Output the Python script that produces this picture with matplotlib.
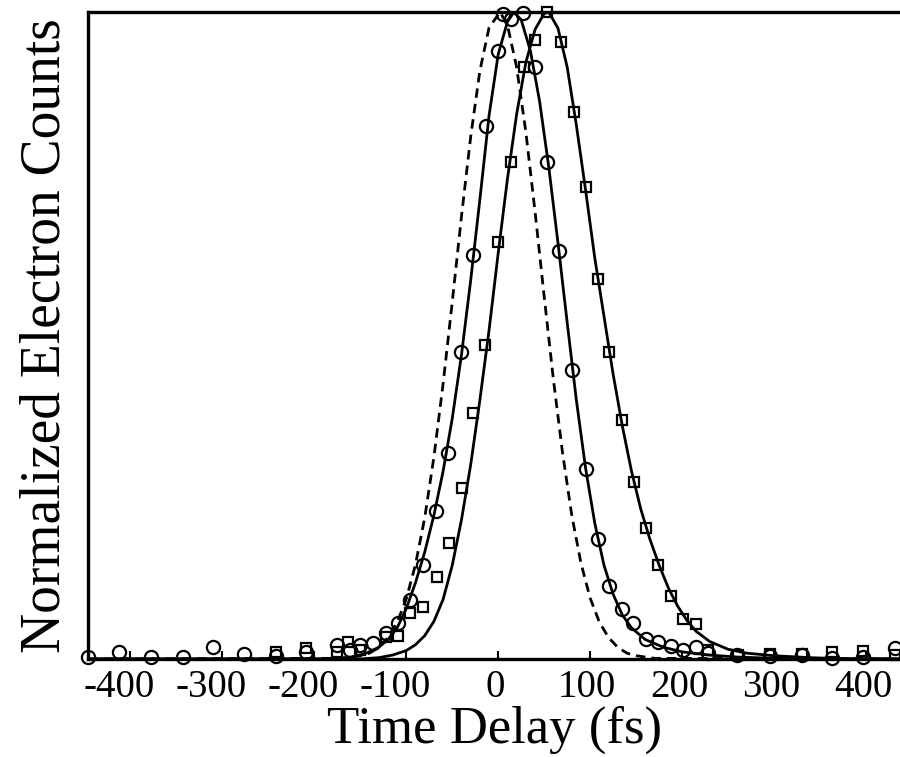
import matplotlib.pyplot as plt
from matplotlib.transforms import ScaledTranslation

plt.rcParams['font.family'] = ['Liberation Serif', 'DejaVu Serif']

# measured points (time delay in fs, normalized counts)
circ_t = [-446, -413, -378, -343, -310, -277, -242, -209, -175, -161, -150, -136,
          -122, -109, -96, -82, -68, -55, -40, -27, -13, 0, 5, 14, 27, 40, 53, 66,
          80, 95, 108, 120, 135, 147, 161, 174, 188, 201, 215, 228, 260, 296, 330,
          363, 397, 432]
circ_y = [0.003, 0.011, 0.003, 0.003, 0.019, 0.008, 0.005, 0.011, 0.022, 0.014,
          0.022, 0.025, 0.040, 0.056, 0.091, 0.146, 0.228, 0.319, 0.475, 0.624,
          0.824, 0.940, 0.997, 0.989, 0.998, 0.915, 0.768, 0.630, 0.447, 0.293,
          0.186, 0.113, 0.077, 0.056, 0.031, 0.026, 0.020, 0.014, 0.019, 0.009,
          0.006, 0.005, 0.006, 0.002, 0.003, 0.017]

sq_t = [-242, -209, -175, -163, -150, -122, -109, -96, -82, -67, -54, -39, -27,
        -14, 0, 14, 28, 40, 53, 68, 82, 95, 108, 121, 135, 148, 161, 174, 188,
        201, 215, 228, 261, 296, 330, 363, 397, 432]
sq_y = [0.011, 0.017, 0.011, 0.026, 0.014, 0.034, 0.036, 0.071, 0.080, 0.127,
        0.180, 0.265, 0.381, 0.485, 0.644, 0.769, 0.915, 0.957, 1.0, 0.954,
        0.845, 0.729, 0.587, 0.474, 0.370, 0.274, 0.203, 0.146, 0.098, 0.062,
        0.054, 0.014, 0.006, 0.008, 0.008, 0.011, 0.012, 0.006]

# fitted curves
fit1_t = [-446, -180, -160, -145, -130, -120, -110, -100, -90, -80, -70, -60, -50,
          -40, -30, -20, -10, 0, 10, 17, 25, 35, 45, 55, 65, 75, 85, 95, 105, 115,
          125, 135, 145, 160, 180, 200, 230, 260, 300, 437]
fit1_y = [0.0, 0.0, 0.003, 0.008, 0.018, 0.030, 0.048, 0.078, 0.118, 0.165, 0.222,
          0.290, 0.372, 0.470, 0.585, 0.710, 0.840, 0.935, 0.985, 1.0, 0.988,
          0.940, 0.862, 0.760, 0.643, 0.520, 0.400, 0.295, 0.210, 0.145, 0.100,
          0.068, 0.048, 0.030, 0.018, 0.011, 0.006, 0.003, 0.001, 0.0]

fit2_t = [-446, -150, -130, -115, -100, -90, -80, -70, -60, -50, -40, -30, -20, -10,
          0, 10, 20, 30, 40, 50, 55, 65, 75, 85, 95, 105, 115, 125, 135, 145, 155,
          165, 175, 185, 195, 205, 215, 230, 250, 270, 300, 340, 380, 437]
fit2_y = [0.0, 0.0, 0.002, 0.006, 0.013, 0.022, 0.036, 0.058, 0.092, 0.145, 0.215,
          0.300, 0.400, 0.508, 0.628, 0.742, 0.842, 0.922, 0.973, 0.998, 1.0, 0.975,
          0.915, 0.825, 0.725, 0.620, 0.530, 0.440, 0.360, 0.290, 0.232, 0.185,
          0.145, 0.110, 0.082, 0.060, 0.043, 0.027, 0.015, 0.009, 0.005, 0.002,
          0.0, 0.0]

xc_t = [-446, -170, -150, -140, -130, -120, -110, -100, -90, -80, -70, -60, -50,
        -40, -30, -20, -10, 2, 10, 20, 30, 40, 50, 60, 70, 80, 90, 100, 110, 120,
        130, 140, 150, 170, 437]
xc_y = [0.0, 0.001, 0.005, 0.009, 0.018, 0.033, 0.056, 0.093, 0.146, 0.218, 0.312,
        0.425, 0.552, 0.684, 0.807, 0.909, 0.976, 1.0, 0.980, 0.915, 0.815, 0.692,
        0.560, 0.432, 0.318, 0.222, 0.148, 0.094, 0.057, 0.033, 0.018, 0.009,
        0.005, 0.001, 0.0]

xticks = [-400, -300, -200, -100, 0, 100, 200, 300, 400]
xtick_labels = ['-400', '-300', '-200', '-100', '0', '100', '200', '300', '400']

fig = plt.figure(figsize=(9, 7.57), dpi=100)
ax = fig.add_axes([0.098, 0.1295, 0.902, 0.8545])

ax.plot(xc_t, xc_y, color='black', lw=2.0, linestyle=(0, (3.4, 2.2)))
ax.plot(fit1_t, fit1_y, color='black', lw=2.0)
ax.plot(fit2_t, fit2_y, color='black', lw=2.0)
ax.plot(circ_t, circ_y, linestyle='none', marker='o', ms=9.5, mfc='none',
        mec='black', mew=1.6, clip_on=False)
ax.plot(sq_t, sq_y, linestyle='none', marker='s', ms=7.5, mfc='none',
        mec='black', mew=1.6, clip_on=False)

ax.set_xlim(-446, 437)
ax.set_ylim(0, 1)
ax.set_xticks(xticks)
ax.set_xticklabels(xtick_labels)
ax.set_yticks([])
ax.tick_params(axis='x', direction='in', length=6, width=1.5, labelsize=28, pad=7)

# digits centred on the tick, minus sign hanging to the left
for lab, txt in zip(ax.get_xticklabels(), xtick_labels):
    dx = -11 if txt.startswith('-') else -3
    lab.set_transform(lab.get_transform() + ScaledTranslation(dx / 100, 0, fig.dpi_scale_trans))

for side in ['left', 'top', 'bottom']:
    ax.spines[side].set_linewidth(2.4)
ax.spines['right'].set_visible(False)

ax.set_xlabel('Time Delay (fs)', fontsize=38, labelpad=0)
ax.set_ylabel('Normalized Electron Counts', fontsize=40, labelpad=12)

fig.savefig('out.png', dpi=100)
